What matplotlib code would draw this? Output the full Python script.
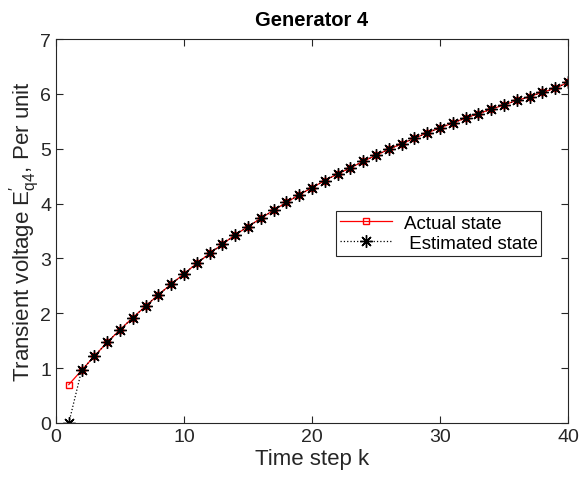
import matplotlib
matplotlib.use("Agg")
import matplotlib.pyplot as plt
import numpy as np

plt.rcParams['font.family'] = ['Liberation Sans', 'DejaVu Sans']
plt.rcParams['mathtext.fontset'] = 'custom'
plt.rcParams['mathtext.rm'] = 'Liberation Sans'
plt.rcParams['mathtext.it'] = 'Liberation Sans'

# time steps and states
k = np.arange(1, 41)
actual = [0.70, 0.96, 1.22, 1.47, 1.70, 1.92, 2.13, 2.34, 2.53, 2.72,
          2.91, 3.09, 3.26, 3.43, 3.58, 3.73, 3.88, 4.02, 4.16, 4.29,
          4.42, 4.54, 4.65, 4.77, 4.88, 4.99, 5.09, 5.19, 5.29, 5.38,
          5.47, 5.56, 5.64, 5.72, 5.80, 5.88, 5.95, 6.03, 6.10, 6.21]
estimated = [0.00] + actual[1:]

fig = plt.figure(figsize=(5.81, 4.85), dpi=100)
ax = fig.add_axes([0.0964, 0.1258, 0.8812, 0.7917])

ax.plot(k, actual, 'r-', marker='s', markersize=4, markerfacecolor='none',
        linewidth=0.9, label='Actual state')
ax.plot(k, estimated, 'k:', marker=(8, 2, 0), markersize=9, markeredgewidth=1.0,
        linewidth=0.9, label=' Estimated state')

ax.set_xlim(0, 40)
ax.set_ylim(0, 7)
ax.set_xticks([0, 10, 20, 30, 40])
ax.set_yticks(range(8))

axc = '#262626'
for s in ax.spines.values():
    s.set_color(axc)
    s.set_linewidth(0.8)
ax.tick_params(direction='in', top=True, right=True, labelsize=14,
               colors=axc, length=5)

ax.set_xlabel('Time step k', fontsize=16, color=axc, labelpad=2)
ax.set_ylabel(r"Transient voltage $\mathrm{E}^{\prime}_{\mathrm{q4}}$, Per unit",
              fontsize=16, color=axc, labelpad=-1)
ax.set_title('Generator 4', fontsize=14.5, fontweight='bold', pad=10)

leg = ax.legend(loc='upper left', bbox_to_anchor=(0.547, 0.552), fontsize=13.5,
                fancybox=False, edgecolor=axc, framealpha=1, borderpad=0.2,
                handlelength=2.8, labelspacing=0.15, handletextpad=0.6,
                borderaxespad=0)
leg.get_frame().set_linewidth(0.8)

fig.savefig('out.png', dpi=100)
